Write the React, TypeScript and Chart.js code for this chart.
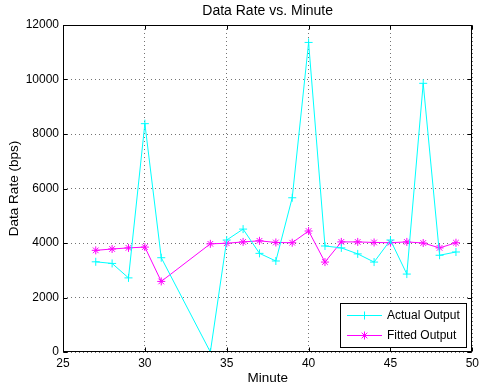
import React, { useEffect, useRef } from "react";
import { Chart, registerables } from "chart.js";

Chart.register(...registerables);

// Minutes observed and the measured / fitted data rates (bps)
const minutes = [27, 28, 29, 30, 31, 34, 35, 36, 37, 38, 39, 40, 41, 42, 43, 44, 45, 46, 47, 48, 49];
const actualOutput = [3310, 3250, 2720, 8380, 3460, 0, 4110, 4510, 3620, 3340, 5660, 11360, 3890, 3820, 3600, 3300, 4110, 2860, 9860, 3550, 3670];
const fittedOutput = [3730, 3780, 3820, 3850, 2590, 3970, 3990, 4040, 4080, 4020, 4010, 4440, 3300, 4040, 4040, 4020, 4010, 4040, 4000, 3820, 4010];

const xTicks = [25, 30, 35, 40, 45, 50];
const yTicks = [0, 2000, 4000, 6000, 8000, 10000, 12000];

const titleText = "Data Rate vs. Minute";
const xLabel = "Minute";
const yLabel = "Data Rate (bps)";
const seriesNames = ["Actual Output", "Fitted Output"];

const CYAN = "#00ffff";
const MAGENTA = "#ff00ff";
const FONT = '"Liberation Sans", Arial, Helvetica, sans-serif';

function drawPlus(ctx: CanvasRenderingContext2D, x: number, y: number, r: number) {
  ctx.beginPath();
  ctx.moveTo(x - r, y);
  ctx.lineTo(x + r, y);
  ctx.moveTo(x, y - r);
  ctx.lineTo(x, y + r);
  ctx.stroke();
}

function drawStar(ctx: CanvasRenderingContext2D, x: number, y: number, r: number) {
  drawPlus(ctx, x, y, r);
  const d = r * Math.SQRT1_2;
  ctx.beginPath();
  ctx.moveTo(x - d, y - d);
  ctx.lineTo(x + d, y + d);
  ctx.moveTo(x - d, y + d);
  ctx.lineTo(x + d, y - d);
  ctx.stroke();
}

// Box, inward tick marks, titles and the legend, drawn over the plot
const framePlugin = {
  id: "frame",
  afterDraw(chart: any) {
    const { ctx, chartArea: a, scales } = chart;
    const xs = scales.x;
    const ys = scales.y;
    ctx.save();
    ctx.strokeStyle = "#000";
    ctx.lineWidth = 1;
    ctx.setLineDash([]);
    const L = Math.round(a.left) + 0.5;
    const R = Math.round(a.right) - 0.5;
    const T = Math.round(a.top) + 0.5;
    const B = Math.round(a.bottom) - 0.5;
    ctx.strokeRect(L, T, R - L, B - T);

    const tl = 4;
    ctx.beginPath();
    xTicks.forEach((v) => {
      const px = Math.round(xs.getPixelForValue(v)) + 0.5;
      ctx.moveTo(px, B);
      ctx.lineTo(px, B - tl);
      ctx.moveTo(px, T);
      ctx.lineTo(px, T + tl);
    });
    yTicks.forEach((v) => {
      const py = Math.round(ys.getPixelForValue(v)) + 0.5;
      ctx.moveTo(L, py);
      ctx.lineTo(L + tl, py);
      ctx.moveTo(R, py);
      ctx.lineTo(R - tl, py);
    });
    ctx.stroke();

    // Titles
    ctx.fillStyle = "#000";
    ctx.textAlign = "center";
    ctx.textBaseline = "middle";
    ctx.font = `14px ${FONT}`;
    ctx.fillText(titleText, (a.left + a.right) / 2, 11);
    ctx.font = `13.5px ${FONT}`;
    ctx.fillText(xLabel, (a.left + a.right) / 2, 378);
    ctx.save();
    ctx.translate(14, (a.top + a.bottom) / 2);
    ctx.rotate(-Math.PI / 2);
    ctx.fillText(yLabel, 0, 0);
    ctx.restore();

    // Legend
    const bw = 126;
    const bh = 44;
    const bx = Math.round(a.right) - 6 - bw;
    const by = Math.round(a.bottom) - 5 - bh;
    ctx.fillStyle = "#fff";
    ctx.fillRect(bx, by, bw, bh);
    ctx.strokeStyle = "#000";
    ctx.strokeRect(bx + 0.5, by + 0.5, bw, bh);
    const colors = [CYAN, MAGENTA];
    ctx.font = `12px ${FONT}`;
    ctx.textAlign = "left";
    seriesNames.forEach((name, i) => {
      const y = by + 12.5 + i * 20;
      ctx.strokeStyle = colors[i];
      ctx.beginPath();
      ctx.moveTo(bx + 7, y);
      ctx.lineTo(bx + 42, y);
      ctx.stroke();
      if (i === 0) drawPlus(ctx, bx + 24.5, y, 4);
      else drawStar(ctx, bx + 24.5, y, 4);
      ctx.fillStyle = "#000";
      ctx.fillText(name, bx + 47, y);
    });
    ctx.restore();
  },
};

const plainNumber = (v: any) => String(v);

export default function App() {
  const canvasRef = useRef<HTMLCanvasElement | null>(null);

  useEffect(() => {
    if (!canvasRef.current) return;
    const chart = new Chart(canvasRef.current, {
      type: "scatter",
      data: {
        datasets: [
          {
            label: seriesNames[0],
            data: minutes.map((m, i) => ({ x: m, y: actualOutput[i] })),
            showLine: true,
            borderColor: CYAN,
            backgroundColor: CYAN,
            borderWidth: 1,
            pointStyle: "cross",
            pointRadius: 4,
            pointBorderWidth: 1,
            pointBorderColor: CYAN,
            pointHoverRadius: 4,
          },
          {
            label: seriesNames[1],
            data: minutes.map((m, i) => ({ x: m, y: fittedOutput[i] })),
            showLine: true,
            borderColor: MAGENTA,
            backgroundColor: MAGENTA,
            borderWidth: 1,
            pointStyle: "star",
            pointRadius: 4,
            pointBorderWidth: 1,
            pointBorderColor: MAGENTA,
            pointHoverRadius: 4,
          },
        ],
      },
      options: {
        responsive: false,
        animation: false,
        events: [],
        layout: { padding: { top: 25, right: 5, left: 0, bottom: 0 } },
        plugins: {
          legend: { display: false },
          title: { display: false },
          tooltip: { enabled: false },
        },
        scales: {
          x: {
            type: "linear",
            min: 25,
            max: 50,
            afterBuildTicks: (s: any) => {
              s.ticks = xTicks.map((v) => ({ value: v }));
            },
            afterFit: (s: any) => {
              s.height = 37;
            },
            ticks: {
              color: "#000",
              font: { family: FONT, size: 12 },
              padding: 4,
              maxRotation: 0,
              callback: plainNumber,
            },
            grid: { color: "rgba(0,0,0,0.55)", lineWidth: 1, drawTicks: false },
            border: { display: false, dash: [1, 3] },
          },
          y: {
            type: "linear",
            min: 0,
            max: 12000,
            afterBuildTicks: (s: any) => {
              s.ticks = yTicks.map((v) => ({ value: v }));
            },
            afterFit: (s: any) => {
              s.width = 63;
            },
            ticks: {
              color: "#000",
              font: { family: FONT, size: 12 },
              padding: 4,
              callback: plainNumber,
            },
            grid: { color: "rgba(0,0,0,0.55)", lineWidth: 1, drawTicks: false },
            border: { display: false, dash: [1, 3] },
          },
        },
      },
      plugins: [framePlugin],
    });
    return () => chart.destroy();
  }, []);

  return (
    <div style={{ position: "absolute", left: 0, top: 0, width: 483, height: 389, background: "#fff" }}>
      <canvas ref={canvasRef} width={483} height={389} />
    </div>
  );
}
